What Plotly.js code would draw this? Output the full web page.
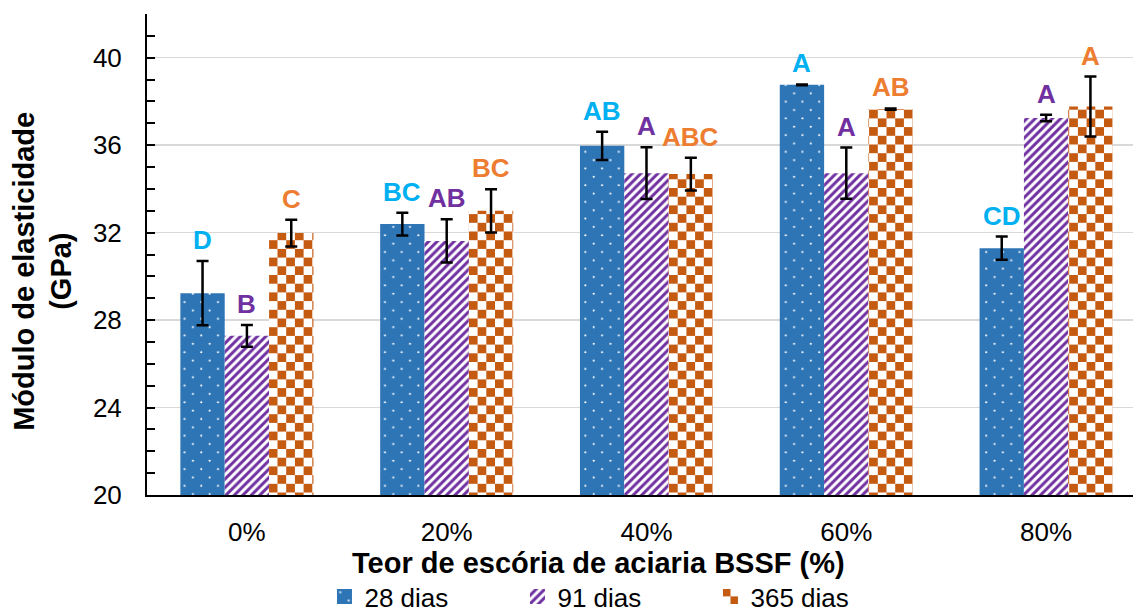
<!DOCTYPE html>
<html>
<head>
<meta charset="utf-8">
<script src="https://cdn.plot.ly/plotly-3.0.1.min.js"></script>
<style>
  html, body { margin: 0; padding: 0; background: #ffffff; }
  #chart { width: 1133px; height: 615px; }
</style>
</head>
<body>
<div id="chart"></div>
<script>
// Steel slag content (% BSSF) on the category axis
const categories = ['0%', '20%', '40%', '60%', '80%'];

// Elastic modulus (GPa) and standard deviation per curing age
const mod28 = [29.23, 32.39, 35.97, 38.76, 31.29];
const sd28 = [1.47, 0.52, 0.65, 0.02, 0.53];
const mod91 = [27.28, 31.62, 34.72, 34.72, 37.24];
const sd91 = [0.50, 0.99, 1.18, 1.17, 0.15];
const mod365 = [31.98, 33.00, 34.68, 37.65, 37.77];
const sd365 = [0.61, 0.99, 0.75, 0.03, 1.37];

// Statistical grouping letters
const grp28 = ['D', 'BC', 'AB', 'A', 'CD'];
const grp91 = ['B', 'AB', 'A', 'A', 'A'];
const grp365 = ['C', 'BC', 'ABC', 'AB', 'A'];

const seriesNames = ['28 dias', '91 dias', '365 dias'];

const FONT = 'Liberation Sans, Arial, sans-serif';
const BLUE = 'rgb(46, 117, 182)';
const PURPLE = 'rgb(112, 48, 160)';
const ORANGE = 'rgb(197, 90, 17)';
const LBL_BLUE = '#00B0F0';
const LBL_PURPLE = '#7030A0';
const LBL_ORANGE = '#ED7D31';

const BARGAP = 0.334;
const slot = (1 - BARGAP) / 3;

function errBar(arr) {
  return { type: 'data', array: arr, visible: true, color: '#000000', thickness: 2.5, width: 6 };
}

const traces = [
  {
    type: 'bar', name: seriesNames[0], x: categories, y: mod28, error_y: errBar(sd28),
    marker: { color: BLUE, pattern: { shape: '.', fgcolor: '#ffffff', bgcolor: BLUE, size: 12, solidity: 0.03 } }
  },
  {
    type: 'bar', name: seriesNames[1], x: categories, y: mod91, error_y: errBar(sd91),
    marker: { color: PURPLE, pattern: { shape: '/', fgcolor: PURPLE, bgcolor: '#ffffff', size: 6, solidity: 0.5 } }
  },
  {
    type: 'bar', name: seriesNames[2], x: categories, y: mod365, error_y: errBar(sd365),
    marker: { color: ORANGE, pattern: { shape: '+', fgcolor: ORANGE, bgcolor: '#ffffff', size: 17.4, solidity: 0.5 } }
  }
];

// Grouping letters sit just above each error bar
const annotations = [];
const groups = [[mod28, sd28, grp28, LBL_BLUE], [mod91, sd91, grp91, LBL_PURPLE], [mod365, sd365, grp365, LBL_ORANGE]];
groups.forEach(([vals, sds, letters, col], k) => {
  vals.forEach((v, i) => {
    annotations.push({
      x: i + (k - 1) * slot, y: v + sds[i], xref: 'x', yref: 'y',
      text: letters[i], showarrow: false, yanchor: 'bottom', yshift: 4,
      font: { family: FONT, size: 26, color: col, weight: 'bold' }
    });
  });
});

// Axis titles
annotations.push({
  xref: 'paper', yref: 'paper', x: 0.4584, y: -0.1415, xanchor: 'center', yanchor: 'middle',
  text: '<b>Teor de escória de aciaria BSSF (%)</b>', showarrow: false,
  font: { family: FONT, size: 29, color: '#000000' }
});
annotations.push({
  xref: 'paper', yref: 'paper', x: -0.1247, y: 0.464, xanchor: 'center', yanchor: 'middle',
  text: '<b>Módulo de elasticidade</b>', showarrow: false, textangle: -90,
  font: { family: FONT, size: 29, color: '#000000' }
});
annotations.push({
  xref: 'paper', yref: 'paper', x: -0.0872, y: 0.464, xanchor: 'center', yanchor: 'middle',
  text: '<b>(GPa)</b>', showarrow: false, textangle: -90,
  font: { family: FONT, size: 29, color: '#000000' }
});

const layout = {
  width: 1133, height: 615,
  margin: { l: 147, r: 0, t: 14, b: 120, pad: 0, autoexpand: false },
  paper_bgcolor: '#ffffff', plot_bgcolor: '#ffffff',
  font: { family: FONT, size: 26, color: '#000000' },
  barmode: 'group', bargap: BARGAP, bargroupgap: 0,
  showlegend: true,
  legend: {
    orientation: 'h', x: 0.180, y: -0.211, xanchor: 'left', yanchor: 'middle',
    font: { family: FONT, size: 26, color: '#000000' },
    entrywidth: 148, entrywidthmode: 'pixels', itemwidth: 30,
    bgcolor: 'rgba(0,0,0,0)', traceorder: 'normal'
  },
  xaxis: {
    type: 'category', range: [-0.5, 4.435],
    showline: true, linecolor: '#000000', linewidth: 2,
    ticks: '', showgrid: false, zeroline: false,
    tickfont: { family: FONT, size: 26, color: '#000000' },
    ticklabelstandoff: 13
  },
  yaxis: {
    range: [20, 42], dtick: 4, tick0: 20,
    showline: true, linecolor: '#000000', linewidth: 2,
    ticks: 'inside', ticklen: 8, tickwidth: 2, tickcolor: '#000000',
    showgrid: true, gridcolor: '#D9D9D9', gridwidth: 1.5, zeroline: false,
    minor: { dtick: 1, ticks: 'inside', ticklen: 8, tickwidth: 2, tickcolor: '#000000', showgrid: false },
    tickfont: { family: FONT, size: 26, color: '#000000' },
    ticklabelstandoff: 18
  },
  annotations: annotations
};

// Swap the built-in textures for a checkerboard (365 dias) and staggered dots (28 dias)
function refineTextures() {
  const NS = 'http://www.w3.org/2000/svg';
  const mk = (tag, attrs) => {
    const el = document.createElementNS(NS, tag);
    Object.keys(attrs).forEach(a => el.setAttribute(a, attrs[a]));
    return el;
  };
  document.querySelectorAll('#chart pattern').forEach(p => {
    const src = p.innerHTML;
    if (/197\D+90\D+17/.test(src)) {
      const s = 17.4, h = s / 2;
      p.setAttribute('width', s); p.setAttribute('height', s);
      while (p.firstChild) p.removeChild(p.firstChild);
      p.appendChild(mk('rect', { x: 0, y: 0, width: s, height: s, fill: '#ffffff' }));
      p.appendChild(mk('rect', { x: 0, y: 0, width: h, height: h, fill: ORANGE }));
      p.appendChild(mk('rect', { x: h, y: h, width: h, height: h, fill: ORANGE }));
    } else if (/46\D+117\D+182/.test(src)) {
      const s = 16.7;
      p.setAttribute('width', s); p.setAttribute('height', s);
      while (p.firstChild) p.removeChild(p.firstChild);
      p.appendChild(mk('rect', { x: 0, y: 0, width: s, height: s, fill: BLUE }));
      p.appendChild(mk('circle', { cx: s * 0.25, cy: s * 0.25, r: 1.1, fill: '#ffffff' }));
      p.appendChild(mk('circle', { cx: s * 0.75, cy: s * 0.75, r: 1.1, fill: '#ffffff' }));
    }
  });
  // slightly larger legend swatches
  document.querySelectorAll('#chart .legend .legendpoints path').forEach(el => {
    const t = el.getAttribute('transform') || '';
    el.setAttribute('transform', t + ' scale(1.25)');
  });
}

Plotly.newPlot('chart', traces, layout, { staticPlot: true, displayModeBar: false })
  .then(refineTextures);
</script>
</body>
</html>
